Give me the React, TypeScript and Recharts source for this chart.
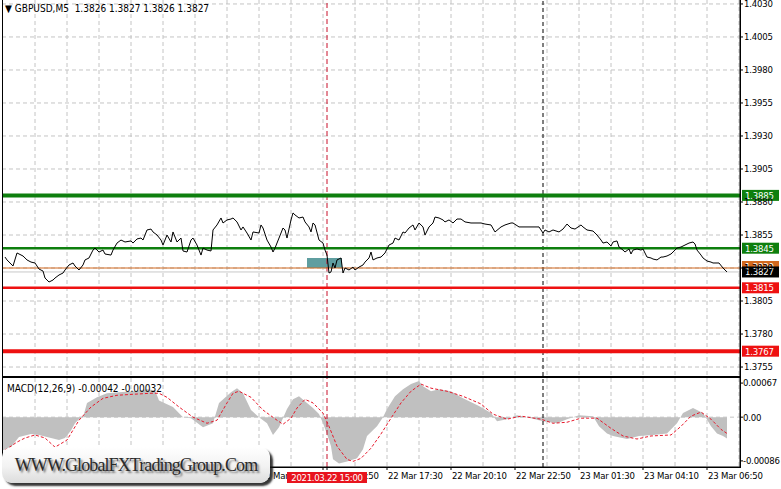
import React from 'react';
import { ComposedChart, Line, Area, XAxis, YAxis, CartesianGrid, ReferenceLine, ReferenceArea } from 'recharts';

const FONT = "'DejaVu Sans Condensed', 'Liberation Sans', Arial, sans-serif";

// ---- price series (bar index: 5-minute bars from 22 Mar 01:30) ----
const priceBars = [1,2,5,7,10,12,14,16,18,20,21,23,25,26,28,30,31,33,35,36,38,40,41,43,45,46,48,50,51,54,55,57,59,61,64,65,67,69,70,72,74,75,77,79,80,82,84,85,87,89,90,92,94,95,97,99,100,102,104,105,107,109,110,112,114,115,117,119,120,122,124,125,128,129,130,132,134,135,136,138,140,141,142,144,145,146,148,150,151,153,154,155,156,158,160,161,162,163,164,165,166,167,169,170,171,173,175,176,178,180,181,183,184,185,187,189,191,193,195,196,198,200,201,203,205,206,208,210,211,213,215,216,218,220,221,223,225,227,229,231,234,236,239,241,244,246,249,251,254,255,258,260,263,265,268,270,271,273,275,278,280,282,284,286,289,290,292,295,297,299,300,302,304,305,307,308,310,311,313,314,315,317,319,320,322,324,325,327,329,330,332,334,335,337,339,341,343,345,346,347,349,350,352,354,355,358,360,361,362];
const priceValues = [1.38383,1.38361,1.38315,1.38414,1.38391,1.38361,1.38345,1.38338,1.38292,1.38277,1.38224,1.38194,1.38209,1.38224,1.38247,1.38262,1.38285,1.38323,1.38338,1.38315,1.38285,1.38323,1.38361,1.38376,1.38436,1.38451,1.38421,1.38436,1.38406,1.38398,1.38436,1.38489,1.38512,1.38497,1.38505,1.38489,1.38520,1.38527,1.38512,1.38588,1.38595,1.38573,1.38550,1.38512,1.38474,1.38550,1.38497,1.38573,1.38497,1.38527,1.38429,1.38421,1.38512,1.38527,1.38474,1.38398,1.38451,1.38436,1.38429,1.38588,1.38626,1.38679,1.38641,1.38664,1.38671,1.38679,1.38649,1.38588,1.38611,1.38565,1.38512,1.38573,1.38565,1.38626,1.38603,1.38512,1.38459,1.38421,1.38451,1.38527,1.38603,1.38588,1.38527,1.38664,1.38717,1.38702,1.38679,1.38686,1.38649,1.38611,1.38573,1.38641,1.38626,1.38512,1.38489,1.38436,1.38398,1.38262,1.38270,1.38338,1.38300,1.38361,1.38376,1.38262,1.38300,1.38285,1.38307,1.38285,1.38307,1.38323,1.38345,1.38376,1.38421,1.38361,1.38376,1.38383,1.38414,1.38474,1.38489,1.38527,1.38512,1.38573,1.38565,1.38603,1.38626,1.38588,1.38641,1.38611,1.38550,1.38611,1.38641,1.38686,1.38679,1.38664,1.38649,1.38664,1.38641,1.38671,1.38671,1.38649,1.38641,1.38641,1.38641,1.38633,1.38626,1.38573,1.38611,1.38626,1.38641,1.38641,1.38611,1.38611,1.38611,1.38611,1.38611,1.38565,1.38588,1.38573,1.38588,1.38573,1.38595,1.38633,1.38603,1.38595,1.38626,1.38611,1.38588,1.38580,1.38550,1.38512,1.38489,1.38497,1.38467,1.38497,1.38505,1.38459,1.38436,1.38421,1.38444,1.38406,1.38436,1.38444,1.38436,1.38444,1.38383,1.38376,1.38368,1.38361,1.38383,1.38383,1.38391,1.38406,1.38421,1.38451,1.38459,1.38474,1.38489,1.38497,1.38482,1.38436,1.38398,1.38376,1.38353,1.38345,1.38338,1.38338,1.38300,1.38285,1.38270];

// ---- MACD(12,26,9) ----
const macdBars = [0,4,6,8,14,18,24,28,31,34,36,38,40,42,47,52,58,65,72,76,78,85,90,94,100,105,108,114,117,120,124,128,132,135,138,142,145,148,152,155,158,160,162,164,165,168,172,177,180,182,187,190,192,196,200,204,208,210,214,218,224,230,238,244,247,252,257,262,270,277,282,288,295,298,302,305,312,318,325,332,337,340,345,350,354,357,360,362];
const macdValues = [-0.00065,-0.00059,-0.00049,-0.00039,-0.00033,-0.00035,-0.00041,-0.00045,-0.00041,-0.00026,-0.00012,-0.00004,0,0.00028,0.00039,0.00047,0.00049,0.00051,0.00055,0.00053,0.00033,0.00020,0,-0.00002,-0.00020,-0.00012,0.00028,0.00049,0.00057,0.00047,0.00014,0,-0.00012,-0.00035,-0.00020,0.00016,0.00035,0.00041,0.00028,0.00018,0.00006,-0.00012,-0.00033,-0.00057,-0.00083,-0.00091,-0.00087,-0.00081,-0.00063,-0.00037,-0.00018,0,0.00016,0.00041,0.00055,0.00065,0.00071,0.00061,0.00051,0.00055,0.00051,0.00037,0.00022,0.00008,-0.00008,-0.00004,0.00004,0,-0.00008,-0.00012,-0.00004,0.00004,0.00002,-0.00018,-0.00032,-0.00037,-0.00043,-0.00037,-0.00035,-0.00032,-0.00012,0.00008,0.00018,0.00008,-0.00018,-0.00032,-0.00037,-0.00042];
const signalBars = [1,7,11,16,21,26,32,38,44,50,57,65,74,78,82,88,95,102,107,112,115,118,124,130,137,140,144,147,151,155,160,163,167,172,175,179,184,189,194,199,204,209,214,222,230,239,245,252,259,269,275,282,289,297,304,310,317,324,334,339,344,349,354,359,362];
const signalValues = [-0.00065,-0.00049,-0.00041,-0.00035,-0.00041,-0.00059,-0.00045,-0.00006,0.00020,0.00037,0.00043,0.00045,0.00047,0.00047,0.00039,0.00020,0,-0.00012,-0.00006,0.00028,0.00047,0.00051,0.00039,0.00014,-0.00006,-0.00014,-0.00002,0.00018,0.00035,0.00028,0.00008,-0.00018,-0.00057,-0.00083,-0.00087,-0.00081,-0.00061,-0.00033,-0.00002,0.00028,0.00051,0.00065,0.00057,0.00051,0.00041,0.00026,0.00006,-0.00004,0.00002,-0.00004,-0.00012,-0.00010,-0.00002,-0.00002,-0.00022,-0.00037,-0.00043,-0.00037,-0.00035,-0.00018,0.00002,0.00010,-0.00004,-0.00024,-0.00032];

// ---- axes / ticks ----
const priceTicks = [1.3755, 1.378, 1.3805, 1.383, 1.3855, 1.388, 1.3905, 1.393, 1.3955, 1.398, 1.4005, 1.403];
const macdTicks = [-0.00086, 0, 0.00067];
const macdTickLabels = ['-0.00086', '0.00', '0.00067'];
const timeTickBars = [0, 32, 64, 96, 128, 160, 192, 224, 256, 288, 320, 352];
const timeTickLabels = ['22 Mar 01:30', '22 Mar 04:10', '22 Mar 06:50', '22 Mar 09:30', '22 Mar 12:10', '22 Mar 14:50', '22 Mar 17:30', '22 Mar 20:10', '22 Mar 22:50', '23 Mar 01:30', '23 Mar 04:10', '23 Mar 06:50'];
const gridBars = [16, 32, 48, 64, 80, 96, 112, 128, 144, 160, 176, 192, 208, 224, 240, 256, 272, 288, 304, 320, 336, 352, 368];

// ---- levels ----
const levelPrices = [1.3885, 1.3845, 1.3815, 1.3767];
const levelLabels = ['1.3885', '1.3845', '1.3815', '1.3767'];
const levelColors = ['#0e7f0e', '#0e7f0e', '#ee1111', '#ee1111'];
const levelWidths = [4, 2.5, 2.5, 4];
const askPrice = 1.3830;
const bidPrice = 1.3827;
const zone = { bar1: 152, bar2: 169.5, low: 1.3830, high: 1.38376 };
const markerBarRed = 162; // 2021.03.22 15:00
const markerBarDay = 270; // 23 Mar 00:00
const markerLabel = '2021.03.22 15:00';

const priceData = priceBars.map((b, i) => ({ bar: b, price: priceValues[i] }));
const macdData = macdBars.map((b, i) => ({ bar: b, v: macdValues[i] }));
const signalData = signalBars.map((b, i) => ({ bar: b, v: signalValues[i] }));

const TXT = { fontSize: 9.5, fontFamily: FONT, letterSpacing: -0.2 };

const makeTag = (text: string, bg: string, fg: string, dy = 0) => (props: any) => {
  const vb = props.viewBox || {};
  const right = vb.width ? vb.x + vb.width : 740;
  const y = (vb.y ?? 0) + dy;
  return (
    <g>
      <rect x={right + 2} y={y - 5.5} width={37} height={11} fill={bg} />
      <text x={right + 5} y={y} dy="0.36em" {...TXT} fill={fg}>{text}</text>
    </g>
  );
};

// x-axis tick: time labels left-aligned at tick; the marker bar gets the red crosshair tag (drawn last, on top)
const TimeTick = (props: any) => {
  const { x, y, payload } = props;
  if (payload.value === markerBarRed) {
    return (
      <g>
        <rect x={x - 40} y={y} width={80} height={11} fill="#e8141e" />
        <text x={x} y={y + 5.5} dy="0.36em" textAnchor="middle" {...TXT} letterSpacing={-0.3} fill="#fff">{markerLabel}</text>
      </g>
    );
  }
  const idx = timeTickBars.indexOf(payload.value);
  return (
    <text x={x + 1} y={y + 7} {...TXT} fill="#000" textAnchor="start">
      {idx >= 0 ? timeTickLabels[idx] : ''}
    </text>
  );
};

export default function App() {
  return (
    <div style={{ position: 'absolute', left: 0, top: 0, width: 781, height: 489, background: '#fff', overflow: 'hidden' }}>
      {/* MACD panel */}
      <div style={{ position: 'absolute', left: 0, top: 377 }}>
        <ComposedChart width={781} height={112} margin={{ top: 1, right: 0, left: 2, bottom: 0 }}>
          <CartesianGrid stroke="#c4c4c4" strokeDasharray="4 3" horizontalValues={[0]} verticalValues={gridBars} />
          <XAxis type="number" dataKey="bar" domain={[-0.5, 368.5]} allowDataOverflow ticks={[...timeTickBars, markerBarRed]} interval={0}
            height={22} tick={<TimeTick />} tickSize={3} axisLine={{ stroke: '#000' }} tickLine={{ stroke: '#000' }} />
          <YAxis orientation="right" width={41} domain={[-0.00098, 0.00077]} allowDataOverflow ticks={macdTicks} interval={0}
            tickFormatter={(v: number) => macdTickLabels[macdTicks.indexOf(v)] ?? String(v)}
            tick={{ ...TXT, fill: '#000' }} tickSize={3} tickMargin={0}
            axisLine={{ stroke: '#000' }} tickLine={{ stroke: '#000' }} />
          <Area data={macdData} dataKey="v" type="linear" fill="#c0c0c0" fillOpacity={1} stroke="none" baseValue={0} isAnimationActive={false} />
          <Line data={signalData} dataKey="v" type="linear" stroke="#e8192c" strokeWidth={1} strokeDasharray="3 2" dot={false} isAnimationActive={false} />
          <ReferenceLine x={markerBarRed} stroke="#c8102a" strokeDasharray="5 3" />
          <ReferenceLine x={markerBarDay} stroke="#000" strokeDasharray="4 3" />
        </ComposedChart>
      </div>

      {/* Price panel */}
      <div style={{ position: 'absolute', left: 0, top: 0 }}>
        <ComposedChart width={781} height={377} data={priceData} margin={{ top: 0, right: 0, left: 2, bottom: 1 }}>
          <CartesianGrid stroke="#c4c4c4" strokeDasharray="4 3" horizontalValues={priceTicks} verticalValues={gridBars} />
          <XAxis type="number" dataKey="bar" domain={[-0.5, 368.5]} allowDataOverflow hide ticks={gridBars} />
          <YAxis orientation="right" width={41} domain={[1.37482, 1.4033]} allowDataOverflow ticks={priceTicks} interval={0}
            tickFormatter={(v: number) => v.toFixed(4)}
            tick={{ ...TXT, fill: '#000' }} tickSize={3} tickMargin={1}
            axisLine={{ stroke: '#000' }} tickLine={{ stroke: '#000' }} />
          <ReferenceArea x1={zone.bar1} x2={zone.bar2} y1={zone.low} y2={zone.high} fill="#5f9ea0" fillOpacity={1} stroke="none" />
          <ReferenceLine x={markerBarRed} stroke="#c8102a" strokeDasharray="5 3" />
          <ReferenceLine x={markerBarDay} stroke="#000" strokeDasharray="4 3" />
          {levelPrices.map((p, i) => (
            <ReferenceLine key={i} y={p} stroke={levelColors[i]} strokeWidth={levelWidths[i]}
              label={makeTag(levelLabels[i], levelColors[i], '#fff')} />
          ))}
          <ReferenceLine y={askPrice} stroke="#d2691e" strokeWidth={1} label={makeTag(askPrice.toFixed(4), '#d2691e', '#fff', -1.5)} />
          <ReferenceLine y={bidPrice} stroke="#c8c8c8" strokeWidth={1} label={makeTag(bidPrice.toFixed(4), '#000', '#fff')} />
          <Line dataKey="price" type="linear" stroke="#000" strokeWidth={1} dot={false} isAnimationActive={false} />
        </ComposedChart>
      </div>

      {/* panel borders */}
      <div style={{ position: 'absolute', left: 2, top: -1, width: 739, height: 378, border: '1px solid #000', boxSizing: 'border-box', pointerEvents: 'none' }} />
      <div style={{ position: 'absolute', left: 2, top: 377, width: 739, height: 91, border: '1px solid #000', boxSizing: 'border-box', pointerEvents: 'none' }} />

      {/* captions */}
      <div style={{ position: 'absolute', left: 5, top: 3, fontFamily: FONT, fontSize: 10, color: '#000', whiteSpace: 'pre', lineHeight: '12px' }}>
        {'▼ GBPUSD,M5  1.3826 1.3827 1.3826 1.3827'}
      </div>
      <div style={{ position: 'absolute', left: 7, top: 383, fontFamily: FONT, fontSize: 10, color: '#000', whiteSpace: 'pre', lineHeight: '12px' }}>
        {'MACD(12,26,9) -0.00042 -0.00032'}
      </div>

      {/* watermark */}
      <div style={{
        position: 'absolute', left: 2, top: 447, width: 268, height: 36, borderRadius: 10,
        background: 'linear-gradient(#ffffff, #f2f2f2 55%, #dcdcdc)',
        boxShadow: '3px 3px 2px rgba(20,20,20,0.85)',
        display: 'flex', alignItems: 'center', justifyContent: 'center',
      }}>
        <span style={{
          fontFamily: "'Liberation Serif', 'DejaVu Serif', serif", fontSize: 18, letterSpacing: '-0.9px',
          color: '#2a2a2a', textShadow: '2px 2px 2px rgba(0,0,0,0.5)', whiteSpace: 'pre',
        }}>WWW.GlobalFXTradingGroup.Com</span>
      </div>
    </div>
  );
}
